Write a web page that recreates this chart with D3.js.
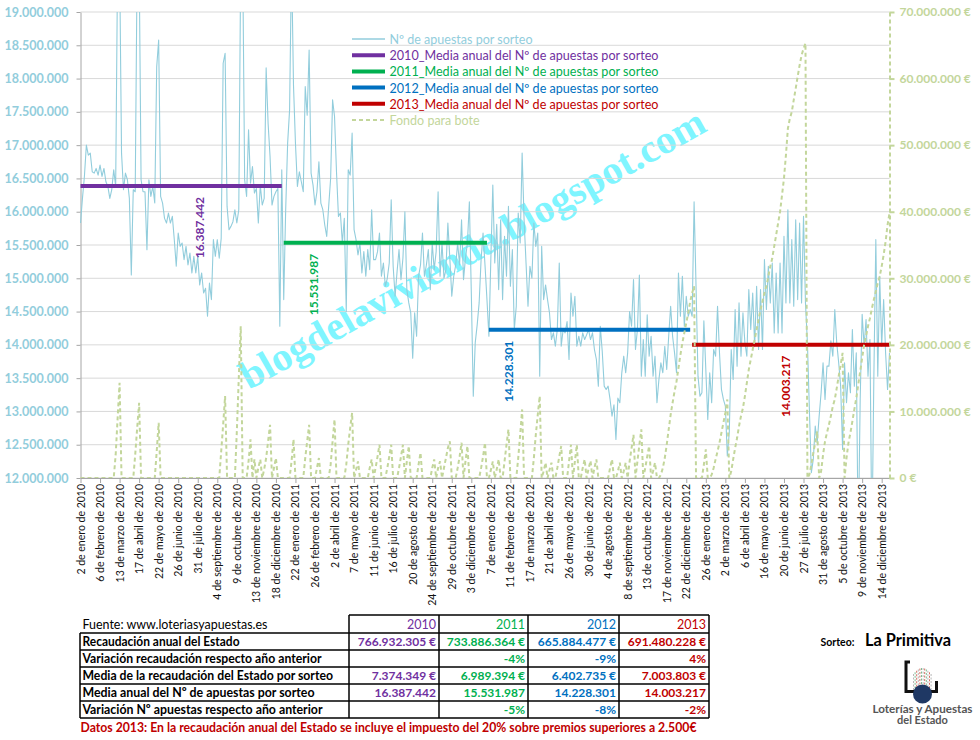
<!DOCTYPE html>
<html><head><meta charset="utf-8">
<script src="https://cdn.jsdelivr.net/npm/d3@7"></script>
<style>body{margin:0;background:#fff}svg{display:block}text{font-family:Lato,"Open Sans",sans-serif}</style>
</head><body><svg id="c" width="980" height="740"></svg>
<script>
// ---------- DATA (Nº de apuestas por sorteo, millones) ----------
const blue2010=[15.83,16.2,16.53,17.0,16.85,16.88,16.6,16.58,16.65,16.55,
16.7,16.53,16.65,16.45,16.38,16.2,16.33,16.63,16.38,19.8,
19.8,16.88,16.33,16.58,16.48,16.2,15.05,16.33,16.3,19.8,
19.8,16.48,16.3,16.3,15.43,16.48,16.23,16.38,16.13,18.18,
18.58,16.23,16.13,15.9,15.83,15.98,15.83,15.93,15.58,15.18,
15.68,15.48,15.53,15.28,15.48,15.2,15.38,15.08,15.33,15.08,
15.33,14.9,15.08,14.78,14.85,14.43,14.93,14.68,15.58,15.33,
15.58,15.3,15.6,18.23,18.38,16.08,15.73,15.78,15.85,16.03,
15.83,16.03,19.8,19.8,16.48,16.23,17.23,16.43,16.68,16.28,
16.35,15.83,16.4,16.1,16.2,18.16,17.33,16.83,16.1,16.23,
16.3,16.35,14.28,16.63];
const blue2011=[14.68,16.03,17.03,17.53,19.8,17.9,17.03,16.38,16.6,16.45,
16.3,17.88,17.45,18.43,16.58,16.4,16.1,16.3,16.75,16.13,
16.03,15.8,15.63,16.08,16.5,17.68,17.43,16.6,15.93,15.98,
15.53,15.9,14.5,16.63,16.55,17.18,15.73,15.58,15.35,15.53,
15.08,15.4,15.03,15.43,15.13,16.03,15.28,15.28,15.4,15.68,
15.03,15.23,14.88,15.0,15.23,16.18,15.18,14.73,15.1,15.43,
14.98,15.3,16.0,14.83,14.63,14.48,13.8,14.48,14.13,15.03,
15.2,15.68,15.03,15.2,15.43,14.83,15.53,15.13,15.4,16.3,
15.03,15.53,15.0,15.13,15.83,15.3,14.73,15.03,15.2,15.53,
15.2,15.88,14.98,15.3,15.53,16.15,14.78,13.23,14.03,14.3,
14.63,15.28,15.68,15.2,14.68];
const blue2012=[14.13,15.3,16.4,15.23,15.81,14.83,15.88,14.68,15.63,15.03,
16.08,14.88,15.43,14.23,14.58,15.98,15.53,16.88,15.88,15.23,
14.58,15.18,15.0,15.83,15.48,15.68,13.53,15.48,14.68,14.9,
14.68,14.48,14.08,14.18,13.98,14.23,15.23,13.98,14.23,14.18,
14.35,13.78,14.78,14.43,14.73,13.98,14.13,13.98,14.18,14.08,
14.15,14.23,14.08,14.18,13.93,13.78,13.38,14.28,13.9,13.38,
13.33,13.38,13.18,12.93,13.1,12.58,13.2,13.13,13.58,13.83,
13.58,13.88,14.5,14.28,14.98,13.93,14.23,15.05,13.53,14.08,
13.53,14.45,13.83,14.13,13.53,13.83,13.13,13.48,13.73,13.58,
13.98,13.63,14.13,14.58,14.13,13.88,13.58,15.08,14.43,15.03,
14.28,14.73,14.43,14.53];
const blue2013=[14.43,16.15,14.88,13.53,13.23,13.28,14.36,13.63,12.88,13.58,
13.13,13.93,13.83,14.58,13.88,13.33,13.18,13.08,12.33,12.68,
13.93,13.48,14.53,13.68,14.63,13.83,14.48,14.03,13.83,14.83,
14.23,14.78,13.98,14.88,13.93,14.83,13.93,15.28,14.53,15.18,
14.63,15.23,14.18,15.08,14.18,15.23,14.18,15.63,14.63,16.03,
14.63,15.58,14.58,15.88,14.68,15.83,14.63,15.93,14.63,14.03,
13.03,12.08,12.28,12.78,12.53,12.93,13.28,13.73,13.18,13.68,
13.68,14.06,13.83,14.53,14.03,13.73,13.38,12.43,13.73,13.13,
13.58,13.28,14.23,13.38,13.88,11.0,13.18,14.46,13.98,14.38,
13.53,14.08,11.0,13.53,15.58,13.53,15.03,13.98,14.68,13.88,
13.33,13.88];
// ---------- Fondo para bote (millones €) ----------
const bote2010=[0,0,0,0,0,0,0,0,0,0,0,0,0,0,0,0,0,0,3.5,9,
14.3,0,0,0,0,0,0,0,3.5,7.5,11.3,0,0,0,0,0,0,0,0,4,
8.3,0,0,0,0,0,0,0,0,0,0,0,0,0,0,0,0,0,0,0,
0,0,0,0,0,0,0,0,0,0,0,0,4,8,12.3,0,0,0,0,0,
7,15,22.8,0,0,0,2.5,5.8,0,2.8,0,1.5,2.8,0,1.3,3,5.5,8,0,1.5,
3,0,0,0];
const bote2011=[0,0,0,0,2.5,5.8,0,0,0,0,0,3,5.5,8,0,0,0,1.5,3,0,
0,0,0,0,2,5.5,8.8,0,0,0,0,0,2,5,7.5,9.8,0,1.2,2.5,0,
0,0,0,0,1.5,2.8,0,1.5,3.2,5,0,0,0,1.5,3.2,5,0,0,0,1.5,
3.2,5,0,2.5,4.8,0,0,0,0,2,3.8,0,0,0,0,0,1.5,2.8,0,1.5,
2.5,0,1.5,3,4.5,5.5,0,0,0,1.5,3.2,5.3,0,2.5,4.8,0,0,0,0,0,
0,1.5,3.2,5.3,0];
const bote2012=[0,1.2,2.5,0,1.3,2.8,0,0,2.5,5,7.3,0,0,0,0,3,6.5,10.3,0,0,
0,0,0,3,6.5,9.5,12.3,0,1,2.3,0,1.2,2.3,0,0,1.5,3.2,4.8,0,0,
0,2.5,5,0,2.5,5,0,0,1.5,2.8,0,1.4,2.6,0,1.5,2.8,0,0,0,0,
0,0,1.5,2.8,0,0,1,2.3,0,1,2.3,0,2.5,4.5,6.5,0,2.5,5,7.3,0,
1.5,3.2,4.8,0,1,2.3,0,0,0.5,1.5,3,5,7.3,9.5,11.3,13,14.5,16.5,18.5,20.3,
21.8,23.3,24.8,26.5];
const bote2013=[27.8,28.8,0,0,0,0,2,4.3,0,0,0.5,1.5,2.8,4,5.3,6.8,8.3,9.8,11.8,0,
1,2.8,4.5,6,7.8,9.3,10.5,12.3,14.3,16.3,17.8,19.3,20.8,22.3,23.8,25.3,26.5,27.8,28.8,30.3,
31.8,33,34.8,36.5,38.3,40,42.5,45,48.5,52.5,54,55,56.8,58.5,60.3,62,63.5,64.5,65.3,0,
0.5,2,3.8,5.3,7,0,1,3.5,5.5,6.8,8,9.3,10.8,11.8,13.5,15.3,17,18.8,0,3,
5.3,6.8,8.5,10.3,12,14,16,18,20,21.3,22.8,24,25.5,26.8,28,29.3,30.3,31.8,33.5,35.5,
38,39.8];
const years=["2010","2011","2012","2013"];
const yearMeans=[16387442,15531987,14228301,14003217];
const tickLabels=["2 de enero de 2010","6 de febrero de 2010","13 de marzo de 2010","17 de abril de 2010","22 de mayo de 2010","26 de junio de 2010","31 de julio de 2010","4 de septiembre de 2010","9 de octubre de 2010","13 de noviembre de 2010","18 de diciembre de 2010",
"22 de enero de 2011","26 de febrero de 2011","2 de abril de 2011","7 de mayo de 2011","11 de junio de 2011","16 de julio de 2011","20 de agosto de 2011","24 de septiembre de 2011","29 de octubre de 2011","3 de diciembre de 2011",
"7 de enero de 2012","11 de febrero de 2012","17 de marzo de 2012","21 de abril de 2012","26 de mayo de 2012","30 de junio de 2012","4 de agosto de 2012","8 de septiembre de 2012","13 de octubre de 2012","17 de noviembre de 2012","22 de diciembre de 2012",
"26 de enero de 2013","2 de marzo de 2013","6 de abril de 2013","16 de mayo de 2013","20 de junio de 2013","27 de julio de 2013","31 de agosto de 2013","5 de octubre de 2013","9 de noviembre de 2013","14 de diciembre de 2013"];
const leftTicks=[12,12.5,13,13.5,14,14.5,15,15.5,16,16.5,17,17.5,18,18.5,19];
const rightTicks=[0,10,20,30,40,50,60,70];
const legendNames=["Nº de apuestas por sorteo","2010_Media anual del Nº de apuestas por sorteo","2011_Media anual del Nº de apuestas por sorteo","2012_Media anual del Nº de apuestas por sorteo","2013_Media anual del Nº de apuestas por sorteo","Fondo para bote"];
const rowLabels=["Recaudación anual del Estado","Variación recaudación respecto año anterior","Media de la recaudación del Estado por sorteo","Media anual del Nº de apuestas por sorteo","Variación Nº apuestas respecto año anterior"];
const recaudacion=[766932305,733886364,665884477,691480228];
const varRecaudacion=[null,-4,-9,4];
const mediaRecaudacion=[7374349,6989394,6402735,7003803];
const varApuestas=[null,-5,-8,-2];

// ---------- DRAWING ----------
const C={blue:"#92CDDC",bote:"#C3D69B",grid:"#D9D9D9",axis:"#A6A6A6"};
const yearColors=["#7030A0","#00B050","#0070C0","#C00000"];
const loc=d3.formatLocale({decimal:",",thousands:".",grouping:[3],currency:["","€"]});
const fInt=loc.format(",.0f");
const svg=d3.select("#c");
const blueAll=blue2010.concat(blue2011,blue2012,blue2013);
const boteAll=bote2010.concat(bote2011,bote2012,bote2013);
const lens=[blue2010.length,blue2011.length,blue2012.length,blue2013.length];
const starts=lens.map((l,i)=>d3.sum(lens.slice(0,i)));
const N=blueAll.length;
const X0=80.5,X1=889.5,YT=12,YB=478;
const x=d3.scaleLinear().domain([0,N-1]).range([X0,X1]);
const yL=d3.scaleLinear().domain([12,19]).range([YB,YT]);
const yR=d3.scaleLinear().domain([0,70]).range([YB,YT]);

svg.append("defs").append("clipPath").attr("id","plot").append("rect")
  .attr("x",X0-1).attr("y",YT).attr("width",X1-X0+2).attr("height",YB-YT);

// watermark
svg.append("text").attr("x",472).attr("y",248).attr("dy","0.35em").attr("text-anchor","middle")
  .attr("transform","rotate(-29.5,472,248)")
  .attr("textLength",528).attr("lengthAdjust","spacingAndGlyphs")
  .style("font-family","'Liberation Serif','DejaVu Serif',serif").style("font-weight","bold")
  .style("font-size","40px").attr("fill","#7FF5FF").text("blogdelavivienda.blogspot.com");

// gridlines
svg.append("g").selectAll("line").data(leftTicks).join("line")
  .attr("x1",X0).attr("x2",X1).attr("y1",d=>yL(d)).attr("y2",d=>yL(d))
  .attr("stroke",C.grid).attr("stroke-width",1);

// left axis
const gl=svg.append("g").attr("transform",`translate(${X0},0)`)
  .call(d3.axisLeft(yL).tickValues(leftTicks).tickSizeInner(4).tickSizeOuter(0).tickPadding(8).tickFormat(d=>fInt(d*1e6)));
gl.select(".domain").attr("stroke",C.axis);
gl.selectAll(".tick line").attr("stroke",C.axis);
gl.selectAll(".tick text").attr("fill",C.blue).style("font-size","12.5px").style("font-weight","bold").style("font-family","Lato");

// x axis
const gx=svg.append("g").attr("transform",`translate(0,${YB})`)
  .call(d3.axisBottom(x).tickValues(tickLabels.map((_,i)=>i*10)).tickSizeInner(5).tickSizeOuter(0).tickFormat(""));
gx.select(".domain").attr("stroke",C.axis);
gx.selectAll(".tick line").attr("stroke",C.axis);
svg.append("g").selectAll("text").data(tickLabels).join("text")
  .attr("transform",(d,i)=>`translate(${x(i*10)},484) rotate(-90)`)
  .attr("text-anchor","end").attr("dominant-baseline","central")
  .style("font-size","10.5px").attr("fill","#111").text(d=>d);

// series
const plot=svg.append("g").attr("clip-path","url(#plot)");
plot.append("path").datum(blueAll)
  .attr("d",d3.line().x((d,i)=>x(i)).y(d=>yL(d)))
  .attr("fill","none").attr("stroke",C.blue).attr("stroke-width",1.1).attr("stroke-linejoin","round");
years.forEach((yr,k)=>{
  const m=yearMeans[k]/1e6;
  plot.append("path").datum([starts[k],starts[k]+lens[k]-1])
    .attr("d",d3.line().x(d=>x(d)).y(()=>yL(m)))
    .attr("stroke",yearColors[k]).attr("stroke-width",4).attr("fill","none");
});
plot.append("path").datum(boteAll)
  .attr("d",d3.line().x((d,i)=>x(i)).y(d=>yR(d)))
  .attr("fill","none").attr("stroke",C.bote).attr("stroke-width",2).attr("stroke-dasharray","4,3");

// mean labels
const labelAt=[61,119,219,361];
years.forEach((yr,k)=>{
  const px=x(labelAt[k]), py=yL(yearMeans[k]/1e6)+11;
  svg.append("text").attr("transform",`translate(${px},${py}) rotate(-90)`)
    .attr("text-anchor","end").attr("dominant-baseline","central")
    .style("font-size","12px").style("font-weight","bold").attr("fill",yearColors[k])
    .text(fInt(yearMeans[k]));
});

// right axis
const gr=svg.append("g").attr("transform",`translate(${X1},0)`)
  .call(d3.axisRight(yR).tickValues(rightTicks).tickSizeInner(5).tickSizeOuter(0).tickPadding(5).tickFormat(d=>fInt(d*1e6)+" €"));
gr.select(".domain").attr("stroke",C.bote).attr("stroke-width",2).attr("stroke-dasharray","4,3");
gr.selectAll(".tick line").attr("stroke",C.bote).attr("stroke-width",2);
gr.selectAll(".tick text").attr("fill",C.bote).style("font-size","12px").style("font-weight","bold").style("font-family","Lato");

// legend
const legColors=[C.blue].concat(yearColors,[C.bote]);
const legW=[143,269,269,269,269,90];
const lg=svg.append("g");
legendNames.forEach((n,i)=>{
  const ly=39+i*16.2;
  lg.append("line").attr("x1",352).attr("x2",385).attr("y1",ly).attr("y2",ly)
    .attr("stroke",legColors[i]).attr("stroke-width",i===0?1.5:(i===5?2:4))
    .attr("stroke-dasharray",i===5?"4,3":null);
  lg.append("text").attr("x",389.5).attr("y",ly).attr("dominant-baseline","central")
    .attr("textLength",legW[i]).attr("lengthAdjust","spacingAndGlyphs")
    .style("font-size","13px").attr("fill",legColors[i]).text(n);
});

// table
const colX=[80,349,439,528,619,709];
const rowY=[615,633,650,667,684,701,718];
const tb=svg.append("g");
const L=(x1,y1,x2,y2)=>tb.append("line").attr("x1",x1).attr("y1",y1).attr("x2",x2).attr("y2",y2).attr("stroke","#000").attr("stroke-width",1.5);
L(colX[1],rowY[0],colX[5],rowY[0]);
for(let r=1;r<rowY.length;r++) L(colX[0],rowY[r],colX[5],rowY[r]);
L(colX[0],rowY[1],colX[0],rowY[6]);
for(let c=1;c<colX.length;c++) L(colX[c],rowY[0],colX[c],rowY[6]);
tb.append("text").attr("x",82.5).attr("y",rowY[1]-4.5).attr("textLength",185).attr("lengthAdjust","spacingAndGlyphs")
  .style("font-size","13px").attr("fill","#000").text("Fuente: www.loteriasyapuestas.es");
years.forEach((yr,k)=>tb.append("text").attr("x",colX[k+2]-3).attr("y",rowY[1]-4.5).attr("text-anchor","end")
  .style("font-size","12.5px").attr("fill",yearColors[k]).text(yr));
const rowW=[157,239,250.5,232,240];
const pct=v=>v===null?"":(v+"%");
const rowVals=[recaudacion.map(v=>fInt(v)+" €"),varRecaudacion.map(pct),mediaRecaudacion.map(v=>fInt(v)+" €"),yearMeans.map(v=>fInt(v)),varApuestas.map(pct)];
rowLabels.forEach((lab,r)=>{
  const by=rowY[r+2]-4.5;
  tb.append("text").attr("x",82.5).attr("y",by).attr("textLength",rowW[r]).attr("lengthAdjust","spacingAndGlyphs")
    .style("font-size","13px").style("font-weight","bold").attr("fill","#000").text(lab);
  rowVals[r].forEach((v,k)=>tb.append("text").attr("x",colX[k+2]-3).attr("y",by).attr("text-anchor","end")
    .style("font-size","12px").style("font-weight","bold").attr("fill",yearColors[k]).text(v));
});
svg.append("text").attr("x",80.5).attr("y",732).attr("textLength",616).attr("lengthAdjust","spacingAndGlyphs")
  .style("font-size","13px").style("font-weight","bold").attr("fill","#C00000")
  .text("Datos 2013: En la recaudación anual del Estado se incluye el impuesto del 20% sobre premios superiores a 2.500€");

// sorteo + logo
svg.append("text").attr("x",820.5).attr("y",646).style("font-size","10.5px").style("font-weight","bold").attr("fill","#000").text("Sorteo:");
svg.append("text").attr("x",865).attr("y",646).attr("textLength",86).attr("lengthAdjust","spacingAndGlyphs")
  .style("font-size","16.5px").style("font-weight","bold").attr("fill","#000").text("La Primitiva");
const lgG=svg.append("g");
lgG.append("path").attr("d","M910,662 H906 V691.5 H936.5 V681").attr("fill","none").attr("stroke","#111").attr("stroke-width",3);
const streakCols=["#b0b0b0","#6bb585","#d06050","#b0b0b0","#d06050","#6bb585","#b0b0b0","#d06050","#6bb585","#b0b0b0","#d06050","#b0b0b0"];
streakCols.forEach((c,i)=>{
  const sx=913.5+i*1.6, top=674-Math.sin(i/11*Math.PI)*6;
  lgG.append("line").attr("x1",sx).attr("x2",sx).attr("y1",top).attr("y2",690).attr("stroke",c).attr("stroke-width",0.9).attr("stroke-dasharray","2,1.5");
});
lgG.append("circle").attr("cx",922.5).attr("cy",694).attr("r",9.5).attr("fill","#1F3864");
svg.append("text").attr("x",922.5).attr("y",712.5).attr("text-anchor","middle").attr("textLength",100).attr("lengthAdjust","spacingAndGlyphs")
  .style("font-size","11px").style("font-weight","bold").attr("fill","#555").text("Loterías y Apuestas");
svg.append("text").attr("x",922.5).attr("y",724).attr("text-anchor","middle")
  .style("font-size","11px").style("font-weight","bold").attr("fill","#555").text("del Estado");
</script></body></html>
